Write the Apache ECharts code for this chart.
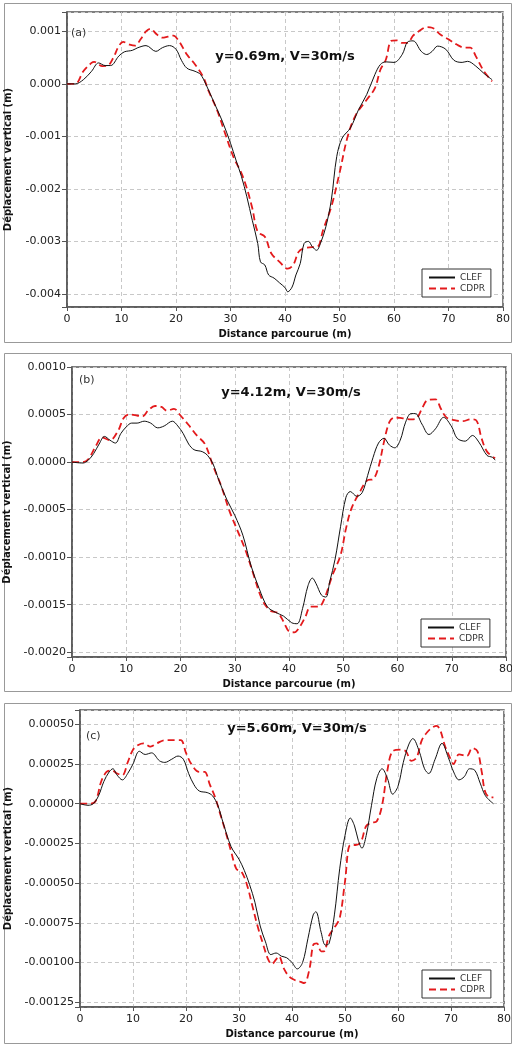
<!DOCTYPE html>
<html>
<head>
<meta charset="utf-8">
<script src="https://cdn.jsdelivr.net/npm/echarts@6/dist/echarts.min.js"></script>
<style>
html,body{margin:0;padding:0;background:#fff;}
#c{width:512px;height:1050px;}
</style>
</head>
<body>
<div id="c"></div>
<script>
// ---------- DATA ----------
const panelTitles = ['y=0.69m, V=30m/s', 'y=4.12m, V=30m/s', 'y=5.60m, V=30m/s'];
const panelLabels = ['(a)', '(b)', '(c)'];
const seriesNames = ['CLEF', 'CDPR'];
const xAxisName = 'Distance parcourue (m)';
const yAxisName = 'Déplacement vertical (m)';

// Panel (a)
const aClefX = [0,1.5,3,4.5,5.8,7,8,9.5,10.5,12,13,14.5,16.3,17.5,18.8,20,21,22,23.5,24.5,25.5,27,28.5,30,31,32,33,34,35,35.5,36.3,37,38,39,40,40.5,41.3,42,42.8,43.5,44.3,45,45.8,46.5,47.5,48.5,49.5,50.5,52,53.5,55,56.5,57.5,58.5,60,61.5,62.5,63.5,65,66,67,68,69.5,71,72.5,73.5,75,76.5,78];
const aClefY = [0,0,0.00008,0.00024,0.0004,0.00035,0.00035,0.00053,0.00061,0.00064,0.00069,0.00073,0.00062,0.00069,0.00073,0.00066,0.00045,0.0003,0.00024,0.00018,-0.00001,-0.00036,-0.00071,-0.00113,-0.00145,-0.00176,-0.00215,-0.0026,-0.00304,-0.00339,-0.00345,-0.00364,-0.0037,-0.00379,-0.00388,-0.00396,-0.00387,-0.00364,-0.00342,-0.00304,-0.003,-0.0031,-0.00317,-0.00304,-0.00272,-0.00221,-0.00138,-0.00103,-0.00084,-0.00049,-0.0002,0.00018,0.00037,0.00042,0.00041,0.00056,0.0008,0.00082,0.00062,0.00056,0.00062,0.00072,0.00066,0.00045,0.00041,0.00043,0.00034,0.0002,0.00008];
const aCdprX = [0,1.5,3,4.5,5,6.5,7.5,8.5,9.5,10.3,11.5,12.5,13.5,14.5,15.3,16.5,17.5,18.5,19.5,20.5,22,23.5,25,26,27.5,29,30.5,32,33,34,35,36.3,37.5,39,40.5,41.5,42.5,43.5,45,46,47,48.5,50,51.5,53,55,56.5,57.5,58.5,59.5,60.5,61.5,62.5,63.5,64.5,66,67,68.5,70,71.5,73,74,75,76.5,78];
const aCdprY = [0,0,0.00024,0.0004,0.00042,0.00034,0.00035,0.0005,0.00072,0.0008,0.00075,0.00073,0.00085,0.001,0.00105,0.00094,0.00088,0.0009,0.00092,0.00082,0.00056,0.00037,0.00013,-0.00014,-0.00049,-0.00094,-0.00138,-0.0017,-0.00199,-0.00237,-0.00282,-0.00291,-0.00323,-0.00339,-0.00352,-0.00345,-0.0032,-0.00313,-0.00311,-0.0031,-0.00278,-0.00234,-0.0017,-0.001,-0.00059,-0.0003,-0.00008,0.00027,0.00046,0.00082,0.00083,0.00078,0.00078,0.00092,0.001,0.00108,0.00107,0.00094,0.00085,0.00075,0.00069,0.00069,0.00053,0.00024,0.00005];

// Panel (b)
const bClefX = [0,2,3,4,5,6,7,8,9,10,11,12,13.3,14.5,15.8,17,18.5,19.5,20.5,21.5,22.5,24,25,26,27,28.5,30,31.5,33,34.5,36,37.5,39,40.5,41.5,42.5,43.5,44.3,45,46,46.8,47.5,48.5,49.5,50.5,51.3,52.5,53.5,54.5,55.5,56.5,57.5,58.5,59.5,60.5,61.5,62.5,63.3,64.5,65.8,67,68.5,70,71,72.5,73.8,75,76.5,77.5,78];
const bClefY = [0,-0.00001,0.00002,0.00009,0.00019,0.00027,0.00023,0.0002,0.0003,0.00037,0.00041,0.00041,0.00043,0.00041,0.00036,0.00038,0.00043,0.00038,0.0003,0.00019,0.00013,0.00011,0.00007,-0.00002,-0.00018,-0.00039,-0.00056,-0.00077,-0.00109,-0.00133,-0.00152,-0.00158,-0.00162,-0.00169,-0.0017,-0.00154,-0.0013,-0.00122,-0.00128,-0.0014,-0.00142,-0.00126,-0.00102,-0.00068,-0.00037,-0.00031,-0.00036,-0.00032,-0.00014,0.00005,0.0002,0.00025,0.00018,0.00015,0.00023,0.00042,0.00051,0.00051,0.0004,0.00029,0.00035,0.00047,0.00037,0.00025,0.00022,0.00028,0.00021,0.00007,0.00005,0.00002];
const bCdprX = [0,2,3,4.5,5.5,7,8.5,9.5,10.5,12,13,14,15.3,16.5,17.5,18.8,20,21.5,23,24.5,26,27.5,29,30.5,32,33.5,35,36.5,38,39,40,41,42,43,44,45.5,46.5,48,49.5,50.5,51.5,53,54.5,55.5,56.5,57.5,58.5,59.5,61,62.5,63.5,64.5,65.5,67,68,69,70.5,72,73.5,74.5,75.5,76.5,78];
const bCdprY = [0,0,0.00003,0.00018,0.00026,0.00023,0.00033,0.00046,0.0005,0.00049,0.00048,0.00054,0.00059,0.00058,0.00054,0.00056,0.00049,0.00039,0.00028,0.00019,-0.00004,-0.00025,-0.00051,-0.00072,-0.00093,-0.00119,-0.00144,-0.00156,-0.00159,-0.00168,-0.00178,-0.00179,-0.00173,-0.00163,-0.00152,-0.00152,-0.00144,-0.00119,-0.00098,-0.0007,-0.00049,-0.00032,-0.00019,-0.00018,-0.00005,0.00021,0.00042,0.00047,0.00046,0.00045,0.00046,0.00056,0.00065,0.00066,0.00056,0.00047,0.00044,0.00043,0.00045,0.00044,0.00025,0.00011,0.00004];

// Panel (c)
const cClefX = [0,1.5,2.5,3.5,4.5,5.5,6.2,7,8,9,10,11.2,12.3,13.5,15,16,17.3,18.5,19.5,20.5,21.5,22.5,24,25,26,27,28.5,30,31,32,33,34,35,36,37,38,39,40,41,42,43,44,44.5,45.5,46.3,47,48,49,50,51,51.8,52.5,53.2,54,55,56,57,58,59,60,61,62,62.8,64,65,65.8,67,68.3,69.5,70.5,71.5,72.5,73.5,74.5,75.5,76.5,78];
const cClefY = [0,-0.00001,0,0.00005,0.00014,0.0002,0.00022,0.00018,0.00015,0.00019,0.00025,0.00033,0.00031,0.00032,0.00027,0.00026,0.00028,0.0003,0.00028,0.00019,0.00012,0.00008,0.00007,0.00005,-0.00001,-0.00012,-0.00027,-0.00035,-0.00042,-0.00051,-0.00062,-0.00077,-0.00087,-0.00095,-0.00094,-0.00096,-0.00097,-0.001,-0.00104,-0.001,-0.00085,-0.0007,-0.00068,-0.00081,-0.00089,-0.00088,-0.0007,-0.00041,-0.0002,-0.00009,-0.00014,-0.00023,-0.00028,-0.0002,-0.00001,0.00016,0.00022,0.00016,0.00006,0.00011,0.00026,0.00037,0.00041,0.00033,0.00022,0.00019,0.00028,0.00038,0.00029,0.0002,0.00015,0.00017,0.00022,0.00021,0.00013,0.00005,0];
const cCdprX = [0,2,3,4,5,6,7,8,9,10,11,12,13.3,14.5,16,17.5,19,20,21,22.5,23.5,24.5,25.5,26.5,27.5,28.5,29.5,30.5,31.5,32.5,33.5,34.5,35.5,36.2,37,37.5,38.5,39.5,40.5,41.5,42.3,43.3,44,44.7,45.5,46,47,48,49,50,51,52,53,54,55,56,57,58,59,60.5,61.5,62.5,63.5,64.5,65.5,66.5,67.3,68,68.8,69.8,70.5,71.5,73,74,75,75.8,76.5,77.5,78];
const cCdprY = [0,0,0.00002,0.00014,0.0002,0.00021,0.00019,0.00018,0.00026,0.00034,0.00037,0.00038,0.00036,0.00038,0.0004,0.0004,0.0004,0.00032,0.00025,0.0002,0.0002,0.00012,0.00004,-0.00007,-0.00018,-0.0003,-0.00041,-0.00043,-0.00051,-0.00064,-0.00077,-0.00088,-0.00098,-0.00101,-0.00098,-0.00096,-0.00104,-0.00109,-0.00111,-0.00112,-0.00113,-0.00104,-0.00089,-0.00088,-0.00093,-0.00093,-0.00083,-0.00078,-0.00072,-0.00049,-0.00026,-0.00026,-0.00024,-0.00014,-0.00012,-0.00011,-0.00001,0.00021,0.00033,0.00034,0.00033,0.00027,0.00029,0.0004,0.00045,0.00048,0.00049,0.00046,0.00037,0.00029,0.00025,0.00031,0.0003,0.00035,0.00033,0.0002,0.00007,0.00004,0.00004];

// Axis definitions
const xTicks = [0, 80, 10];               // min, max, step
const yRanges = [[-0.00425, 0.00137], [-0.00205, 0.0010], [-0.00128, 0.00059]];
const ySteps = [0.001, 0.0005, 0.00025];
const yDecimals = [3, 4, 5];

// ---------- LAYOUT ----------
const grids = [
  {left: 67, top: 12, width: 436, height: 295},
  {left: 72, top: 367, width: 434, height: 290},
  {left: 80, top: 710, width: 424, height: 297}
];
const frames = [[4, 3, 507, 339], [4, 353, 507, 338], [4, 703, 507, 340]];
const yNameGaps = [54, 60, 66];
const titlePos = [[285, 57], [291, 393], [297, 729]];
const labelPos = [[71, 33], [79, 380], [86, 736]];
const legendPos = [[422, 269], [421, 619], [422, 970]];

const zip = (xs, ys) => xs.map((x, i) => [x, ys[i]]);
const data = [
  [zip(aClefX, aClefY), zip(aCdprX, aCdprY)],
  [zip(bClefX, bClefY), zip(bCdprX, bCdprY)],
  [zip(cClefX, cClefY), zip(cCdprX, cCdprY)]
];

const FONT = 'DejaVu Sans';
const option = {
  backgroundColor: '#fff',
  animation: false,
  grid: grids.map(g => Object.assign({show: true, borderColor: '#555', borderWidth: 1.5, backgroundColor: 'transparent', containLabel: false, outerBoundsMode: 'none'}, g)),
  xAxis: grids.map((g, i) => ({
    gridIndex: i, type: 'value', min: xTicks[0], max: xTicks[1], interval: xTicks[2],
    name: xAxisName, nameLocation: 'middle', nameGap: 22,
    nameTextStyle: {fontFamily: FONT, fontWeight: 'bold', fontSize: 10, color: '#111'},
    axisLine: {show: true, onZero: false, lineStyle: {color: '#555', width: 1.5}},
    axisTick: {show: true, length: 4, inside: false, lineStyle: {color: '#555'}},
    axisLabel: {fontFamily: FONT, fontSize: 11, color: '#222', margin: 7},
    splitLine: {show: true, lineStyle: {color: '#c8c8c8', type: [4, 3], width: 1}}
  })),
  yAxis: grids.map((g, i) => ({
    gridIndex: i, type: 'value', min: yRanges[i][0], max: yRanges[i][1],
    minInterval: ySteps[i], maxInterval: ySteps[i],
    name: yAxisName, nameLocation: 'middle', nameGap: yNameGaps[i], nameRotate: 90,
    nameTextStyle: {fontFamily: FONT, fontWeight: 'bold', fontSize: 10, color: '#111'},
    axisLine: {show: true, onZero: false, lineStyle: {color: '#555', width: 1.5}},
    axisTick: {show: true, length: 5, inside: false, lineStyle: {color: '#555'}},
    axisLabel: {
      fontFamily: FONT, fontSize: 11, color: '#222', margin: 6,
      formatter: v => {
        const r = v / ySteps[i];
        return Math.abs(r - Math.round(r)) < 1e-6 ? (Math.abs(v) < 1e-12 ? 0 : v).toFixed(yDecimals[i]) : '';
      }
    },
    splitLine: {show: true, lineStyle: {color: '#c8c8c8', type: [4, 3], width: 1}}
  })),
  legend: legendPos.map(p => ({
    left: p[0], top: p[1], orient: 'vertical', data: seriesNames,
    itemWidth: 26, itemHeight: 10, itemGap: 2, padding: [4, 6, 4, 6],
    borderColor: '#333', borderWidth: 1, backgroundColor: '#fff',
    itemStyle: {color: 'rgba(0,0,0,0)', borderColor: 'rgba(0,0,0,0)', borderWidth: 0},
    textStyle: {fontFamily: FONT, fontSize: 9, color: '#333'},
    selectedMode: false
  })),
  series: [],
  graphic: []
};

for (let i = 0; i < 3; i++) {
  option.series.push({
    name: seriesNames[0], type: 'line', xAxisIndex: i, yAxisIndex: i,
    data: data[i][0], symbol: 'none', smooth: 0.35, z: 3,
    lineStyle: {color: '#111', width: 1}, itemStyle: {color: '#111'}
  });
  option.series.push({
    name: seriesNames[1], type: 'line', xAxisIndex: i, yAxisIndex: i,
    data: data[i][1], symbol: 'none', smooth: 0.35, z: 2,
    lineStyle: {color: '#e31a1c', width: 1.8, type: [7, 4]}, itemStyle: {color: '#e31a1c'}
  });
  const f = frames[i];
  option.graphic.push({type: 'rect', shape: {x: f[0] + 0.5, y: f[1] + 0.5, width: f[2], height: f[3]},
    style: {fill: 'none', stroke: '#999', lineWidth: 1}, z: -10, silent: true});
  option.graphic.push({type: 'text', x: titlePos[i][0], y: titlePos[i][1],
    style: {text: panelTitles[i], font: 'bold 13px "DejaVu Sans"', fill: '#111', textAlign: 'center', textVerticalAlign: 'middle'}, z: 10});
  option.graphic.push({type: 'text', x: labelPos[i][0], y: labelPos[i][1],
    style: {text: panelLabels[i], font: '11px "DejaVu Sans"', fill: '#333', textAlign: 'left', textVerticalAlign: 'middle'}, z: 10});
}

const chart = echarts.init(document.getElementById('c'), null, {renderer: 'canvas'});
chart.setOption(option);
</script>
</body>
</html>
